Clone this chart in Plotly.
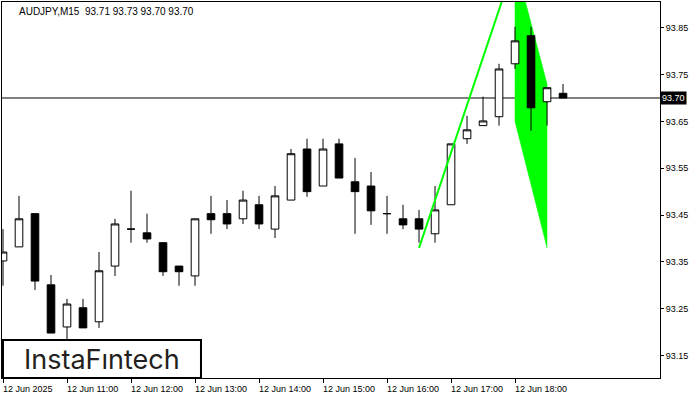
import plotly.graph_objects as go

symbol = "AUDJPY"
timeframe = "M15"

# candle index (15-minute bars from 12 Jun 2025 10:00)
idx = list(range(36))
opens = [93.352, 93.382, 93.453, 93.301, 93.211, 93.252, 93.222, 93.341, 93.420, 93.412,
         93.391, 93.341, 93.320, 93.453, 93.453, 93.442, 93.472, 93.420, 93.482, 93.591,
         93.512, 93.602, 93.521, 93.512, 93.453, 93.442, 93.442, 93.410, 93.472, 93.613,
         93.641, 93.660, 93.773, 93.833, 93.692, 93.71]
highs = [93.420, 93.491, 93.453, 93.322, 93.271, 93.271, 93.371, 93.442, 93.502, 93.453,
         93.391, 93.341, 93.442, 93.491, 93.482, 93.502, 93.491, 93.512, 93.591, 93.613,
         93.613, 93.613, 93.572, 93.542, 93.491, 93.472, 93.461, 93.512, 93.602, 93.662,
         93.703, 93.773, 93.852, 93.852, 93.722, 93.73]
lows = [93.299, 93.382, 93.290, 93.198, 93.180, 93.209, 93.209, 93.320, 93.391, 93.391,
        93.320, 93.299, 93.299, 93.410, 93.420, 93.431, 93.420, 93.401, 93.482, 93.489,
        93.512, 93.529, 93.410, 93.429, 93.410, 93.420, 93.391, 93.391, 93.472, 93.602,
        93.641, 93.641, 93.762, 93.630, 93.641, 93.70]
closes = [93.371, 93.442, 93.309, 93.198, 93.260, 93.209, 93.331, 93.431, 93.420, 93.399,
          93.329, 93.329, 93.442, 93.440, 93.431, 93.482, 93.431, 93.491, 93.581, 93.500,
          93.591, 93.529, 93.500, 93.459, 93.453, 93.429, 93.420, 93.461, 93.602, 93.632,
          93.651, 93.762, 93.822, 93.679, 93.722, 93.70]

tick_idx = [0, 4, 8, 12, 16, 20, 24, 28, 32]
tick_labels = ["12 Jun 2025", "12 Jun 11:00", "12 Jun 12:00", "12 Jun 13:00", "12 Jun 14:00",
               "12 Jun 15:00", "12 Jun 16:00", "12 Jun 17:00", "12 Jun 18:00"]
price_ticks = [93.15, 93.25, 93.35, 93.45, 93.55, 93.65, 93.75, 93.85]

# bearish flag pattern: pole and flag
pole_x = [26, 32]
pole_y = [93.38, 93.99]
flag_x = [32, 34, 34, 32]
flag_y = [93.99, 93.73, 93.38, 93.65]

x_range = [-0.0625, 41.06]
y_range = [93.102, 93.905]

FONT = "Liberation Sans"
GREEN = "#00ff00"

fig = go.Figure()

# flag drawn beneath the candles
flag_path = "M " + " L ".join(f"{fx},{fy}" for fx, fy in zip(flag_x, flag_y)) + " Z"
fig.add_shape(type="path", xref="x", yref="y", path=flag_path, fillcolor=GREEN,
              line=dict(color=GREEN, width=0.5), layer="below")

# current price line
last = closes[-1]
fig.add_shape(type="line", xref="paper", x0=0, x1=1, yref="y", y0=last, y1=last,
              line=dict(color="black", width=1), layer="below")

fig.add_trace(go.Candlestick(
    x=idx, open=opens, high=highs, low=lows, close=closes,
    increasing=dict(fillcolor="white", line=dict(color="black", width=1)),
    decreasing=dict(fillcolor="black", line=dict(color="black", width=1)),
    whiskerwidth=0, showlegend=False))

fig.add_trace(go.Scatter(x=pole_x, y=pole_y, mode="lines",
                         line=dict(color=GREEN, width=2),
                         hoverinfo="skip", showlegend=False))

annotations = []
for ti, tl in zip(tick_idx, tick_labels):
    annotations.append(dict(x=ti, y=-0.028, xref="x", yref="paper", text=tl,
                            showarrow=False, xanchor="left", yanchor="middle",
                            xshift=-2, font=dict(family=FONT, size=9, color="black")))

title = f"{symbol},{timeframe}\u00a0 {opens[-1]:.2f} {highs[-1]:.2f} {lows[-1]:.2f} {closes[-1]:.2f}"
annotations.append(dict(x=0.023, y=0.995, xref="paper", yref="paper", text=title,
                        showarrow=False, xanchor="left", yanchor="top",
                        font=dict(family=FONT, size=10, color="black")))

annotations.append(dict(x=1.0, y=last, xref="paper", yref="y", text=f"{last:.2f}",
                        showarrow=False, xanchor="left", yanchor="middle", xshift=0,
                        bgcolor="black", borderpad=1,
                        font=dict(family=FONT, size=9, color="white")))

# logo
fig.add_shape(type="rect", xref="paper", yref="paper", x0=0.0015, x1=0.3024, y0=0.0, y1=0.101,
              line=dict(color="black", width=2), fillcolor="white", layer="above")
annotations.append(dict(x=0.152, y=0.05, xref="paper", yref="paper", text="InstaF\u0131ntech",
                        showarrow=False, xanchor="center", yanchor="middle",
                        font=dict(family="Inter", size=27, color="#231f20")))

fig.update_layout(
    width=700, height=400,
    margin=dict(l=2, r=40, t=2, b=22),
    paper_bgcolor="white", plot_bgcolor="white",
    boxgap=0.32,
    annotations=annotations,
    xaxis=dict(range=x_range, showgrid=False, zeroline=False, showline=True, linecolor="black",
               linewidth=1, mirror=True, tickvals=tick_idx, ticktext=[""] * len(tick_idx),
               ticks="outside", ticklen=4, tickcolor="black", rangeslider=dict(visible=False),
               fixedrange=True),
    yaxis=dict(range=y_range, side="right", showgrid=False, zeroline=False, showline=True,
               linecolor="black", linewidth=1, mirror=True, tickvals=price_ticks,
               ticktext=[f"{p:.2f}" for p in price_ticks], ticks="outside", ticklen=3,
               tickcolor="black", tickfont=dict(family=FONT, size=9, color="black")),
    hovermode=False,
)

fig.write_html("out.html", config={"displayModeBar": False},
               post_script="document.body.style.margin='0';")
